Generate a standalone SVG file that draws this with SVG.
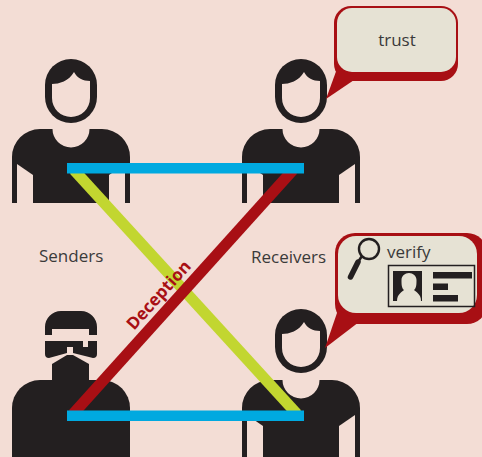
<svg xmlns="http://www.w3.org/2000/svg" xmlns:xlink="http://www.w3.org/1999/xlink" width="482" height="457" viewBox="0 0 482 457">
  <style>
    .bg { fill: #f3ddd5; }
    .ink { fill: #231f20; }
    .face { fill: #f3ddd5; }
    .label { font-family: "Open Sans", "Noto Sans", sans-serif; font-size: 17px; fill: #3a3a3a; }
    .bubble-edge { fill: #a80f14; }
    .bubble-fill { fill: #e6e2d4; }
    .link-green { stroke: #c2d630; stroke-width: 11; fill: none; }
    .link-red { stroke: #a80f14; stroke-width: 11; fill: none; }
    .link-blue { fill: #00a9e0; }
    .tag { font-family: "Open Sans", "Liberation Sans", sans-serif; font-size: 17px; font-weight: bold; fill: #a80f14; }
  </style>
  <defs>
    <!-- plain head: dark pill with the face cut out below the hairline -->
    <g id="head">
      <rect class="ink" x="-26" y="0" width="52" height="64" rx="26"/>
      <path class="face" d="M-19,25 C-12,25 -2,22 3,13 C6,19 12,22 19,22 V39 A19,19 0 0 1 -19,39 Z"/>
    </g>
    <!-- torso with neck notch and arm gaps -->
    <g id="torso">
      <path class="ink" d="M-59,78 V28 A28,28 0 0 1 -31,0 H-18.5 A18.5,18.5 0 0 0 18.5,0 H31 A28,28 0 0 1 59,28 V78 Z"/>
      <polygon class="bg" points="-54,35 -38,46 -38,80 -54,80"/>
      <polygon class="bg" points="54,35 38,46 38,80 54,80"/>
    </g>
    <clipPath id="top-row">
      <rect x="0" y="0" width="482" height="203"/>
    </clipPath>
  </defs>

  <rect class="bg" x="0" y="0" width="482" height="457"/>

  <!-- people -->
  <g id="sender-top">
    <use xlink:href="#head" href="#head" transform="translate(71,59)"/>
    <g clip-path="url(#top-row)">
      <use xlink:href="#torso" href="#torso" transform="translate(71,129)"/>
    </g>
  </g>

  <g id="receiver-top">
    <use xlink:href="#head" href="#head" transform="translate(301,59)"/>
    <g clip-path="url(#top-row)">
      <use xlink:href="#torso" href="#torso" transform="translate(301,129)"/>
    </g>
  </g>

  <g id="sender-masked" transform="translate(71,311)">
    <!-- hood -->
    <path class="ink" d="M-26,24 V16 A16,16 0 0 1 -10,0 H10 A16,16 0 0 1 26,16 V24 H18 V18 H-19 V24 Z"/>
    <!-- goggles -->
    <path class="ink" d="M-26,30 H12 V36 H17 V30 H26 V43 Q26,47 22,47 L2,42 V36 H-4 V42 L-22,47 Q-26,47 -26,43 Z"/>
    <!-- face mask -->
    <path class="ink" d="M-4,44 H2 L18,53 V72 H-19 V53 Z"/>
    <!-- torso -->
    <path class="ink" d="M-59,148 V97 A28,28 0 0 1 -31,69 H31 A28,28 0 0 1 59,97 V148 Z"/>
  </g>

  <g id="receiver-bottom">
    <use xlink:href="#head" href="#head" transform="translate(301,309)"/>
    <use xlink:href="#torso" href="#torso" transform="translate(301,380)"/>
  </g>

  <!-- group labels -->
  <g id="senders-label">
    <text class="label" x="39" y="262">Senders</text>
  </g>
  <g id="receivers-label">
    <text class="label" x="251" y="263">Receivers</text>
  </g>

  <!-- connectors -->
  <g id="connectors">
    <line class="link-green" x1="74" y1="170" x2="297" y2="414"/>
    <line class="link-red" x1="73" y1="414" x2="293" y2="170"/>
    <rect class="link-blue" x="67" y="163" width="237" height="10.5"/>
    <rect class="link-blue" x="67" y="410.5" width="237" height="10.5"/>
    <text class="tag" text-anchor="middle" transform="translate(163,299) rotate(-48)">Deception</text>
  </g>

  <!-- speech bubble: trust -->
  <g id="bubble-trust">
    <rect class="bubble-edge" x="334" y="6" width="124" height="75" rx="17"/>
    <polygon class="bubble-edge" points="338,66 357,78 326,99"/>
    <rect class="bubble-fill" x="337" y="8" width="119" height="64" rx="15"/>
    <text class="label" x="397" y="46" text-anchor="middle">trust</text>
  </g>

  <!-- speech bubble: verify with magnifier and ID card -->
  <g id="bubble-verify">
    <rect class="bubble-edge" x="335" y="233" width="152" height="91" rx="20"/>
    <polygon class="bubble-edge" points="338,310 359,322 325,348"/>
    <rect class="bubble-fill" x="338" y="236" width="139" height="77" rx="18"/>
    <circle cx="369" cy="249" r="10" fill="none" stroke="#231f20" stroke-width="2.4"/>
    <line x1="362" y1="256" x2="358" y2="262" stroke="#231f20" stroke-width="2.6"/>
    <line x1="358" y1="262" x2="350.5" y2="277" stroke="#231f20" stroke-width="5.5" stroke-linecap="round"/>
    <text class="label" x="387" y="258">verify</text>
    <rect x="388.5" y="265.5" width="86" height="41" fill="none" stroke="#231f20" stroke-width="1.5"/>
    <rect class="ink" x="393" y="271" width="29" height="30"/>
    <path fill="#e6e2d4" d="M397,301 C397,294 402,292 404,290 C401.5,288 401.5,284 401.5,280 C401.5,276 405,273 409,273 C413,273 416.5,276 416.5,280 C416.5,284 416.5,288 414,290 C416,292 421,294 421,301 Z"/>
    <rect class="ink" x="433" y="272" width="39" height="6.5"/>
    <rect class="ink" x="433" y="283.5" width="15" height="6.5"/>
    <rect class="ink" x="433" y="295" width="25" height="6.5"/>
  </g>
</svg>
